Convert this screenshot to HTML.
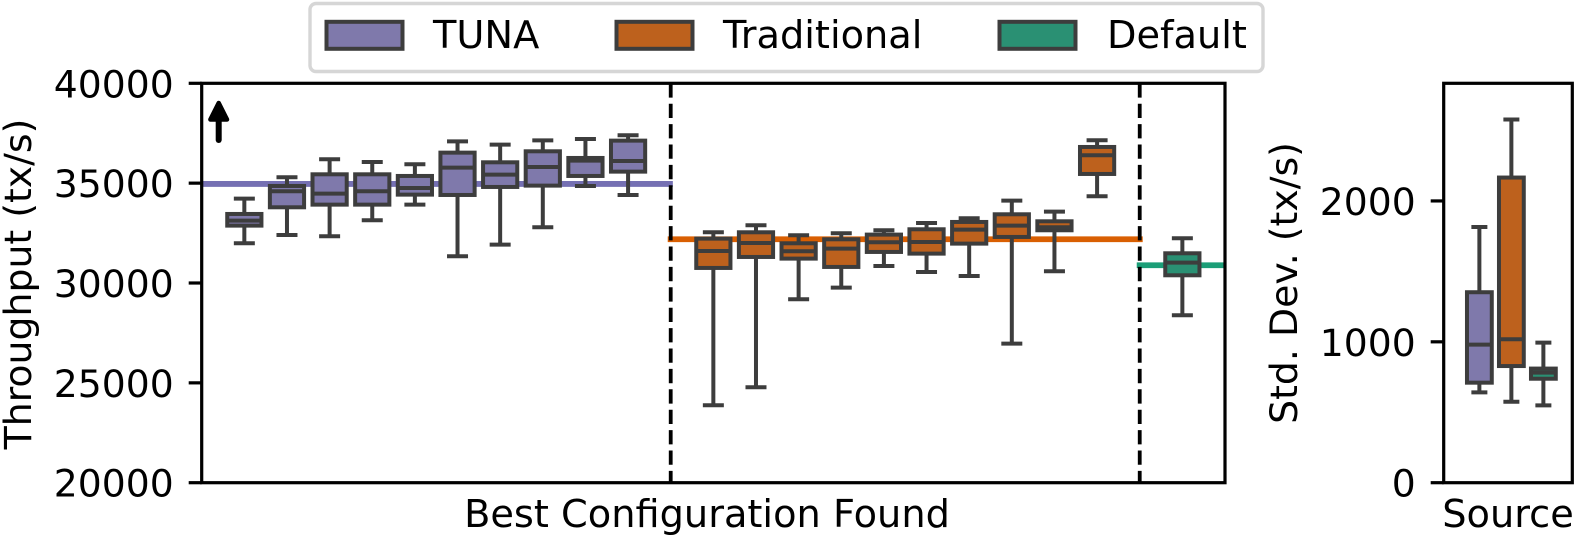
<!DOCTYPE html>
<html lang="en">
<head>
<meta charset="utf-8">
<title>Throughput and standard deviation by configuration source</title>
<style>
html,body{margin:0;padding:0;background:#fff;}
svg{display:block;}
text{font-family:"DejaVu Sans","Liberation Sans",sans-serif;fill:#000;}
</style>
</head>
<body>
<svg id="chart" width="1578" height="536" viewBox="0 0 1578 536" xmlns="http://www.w3.org/2000/svg">
  <g id="main-plot"></g>
  <g id="side-plot"></g>
  <text transform="translate(31 284) rotate(-90)" text-anchor="middle" font-size="37.8">Throughput (tx/s)</text>
  <text x="707" y="527" text-anchor="middle" font-size="38.3">Best Configuration Found</text>
  <text transform="translate(1297 283) rotate(-90)" text-anchor="middle" font-size="37.8">Std. Dev. (tx/s)</text>
  <text x="1508" y="527" text-anchor="middle" font-size="38.3">Source</text>
  <g>
    <line x1="218.7" y1="140" x2="218.7" y2="118" stroke="#000" stroke-width="6" stroke-linecap="round"/>
    <path d="M218.7 103 L227 119.5 L210.4 119.5 Z" fill="#000" stroke="#000" stroke-width="4.5" stroke-linejoin="round"/>
  </g>
  <g>
    <rect x="310" y="3.5" width="953" height="68" rx="6" fill="#fff" stroke="#d6d6d6" stroke-width="3.4"/>
    <g>
      <rect x="326.5" y="21.8" width="76" height="27" fill="#7f79ab" stroke="#3d3d3d" stroke-width="4"/>
      <text x="433" y="48" font-size="38.3">TUNA</text>
    </g>
    <g>
      <rect x="616.5" y="21.8" width="76" height="27" fill="#bd611d" stroke="#3d3d3d" stroke-width="4"/>
      <text x="723" y="48" font-size="38.3">Traditional</text>
    </g>
    <g>
      <rect x="999.5" y="21.8" width="76" height="27" fill="#2a9073" stroke="#3d3d3d" stroke-width="4"/>
      <text x="1107" y="48" font-size="38.3">Default</text>
    </g>
  </g>
</svg>
<script>
// Main panel: [upper whisker, Q3, median, Q1, lower whisker] for each configuration
const tunaHigh   = [34225, 35293, 36194, 36061, 35944, 37095, 36928, 37145, 37212, 37396];
const tunaQ3     = [33457, 34859, 35443, 35443, 35360, 36528, 36044, 36595, 36261, 37129];
const tunaMedian = [33123, 34592, 34475, 34592, 34759, 35777, 35426, 35810, 36127, 36111];
const tunaQ1     = [32873, 33791, 33924, 33924, 34425, 34408, 34809, 34876, 35360, 35577];
const tunaLow    = [31988, 32405, 32339, 33140, 33924, 31337, 31921, 32789, 34859, 34408];

const tradHigh   = [32540, 32890, 32389, 32489, 32640, 33007, 33240, 34125, 33574, 37146];
const tradQ3     = [32222, 32540, 31989, 32189, 32423, 32690, 33057, 33441, 33090, 36812];
const tradMedian = [31605, 32005, 31588, 31722, 32039, 32056, 32673, 32873, 32790, 36395];
const tradQ1     = [30754, 31304, 31221, 30804, 31555, 31471, 31972, 32306, 32640, 35460];
const tradLow    = [23876, 24777, 29185, 29769, 30854, 30553, 30353, 26965, 30587, 34342];

const defaultHigh   = [32239];
const defaultQ3     = [31488];
const defaultMedian = [31021];
const defaultQ1     = [30386];
const defaultLow    = [28384];

// Reference levels drawn as horizontal lines
const tunaBest = 34960;
const tradBest = 32189;
const defaultBest = 30887;

// Side panel: one box per source (TUNA, Traditional, Default)
const sideHigh   = [1815, 2578, 994];
const sideQ3     = [1352, 2166, 810];
const sideMedian = [980, 1018, 781];
const sideQ1     = [710, 828, 738];
const sideLow    = [641, 575, 549];

const mainTicks = [20000, 25000, 30000, 35000, 40000];
const sideTicks = [0, 1000, 2000];

const NS = 'http://www.w3.org/2000/svg';
const FILLS = {tuna: '#7f79ab', trad: '#bd611d', def: '#2a9073'};
const EDGE = '#3d3d3d';
const LW = 4;

const mainX = v => 201.7 + (v + 1) * (1225 - 201.7) / 24;
const mainY = v => 482.7 - (v - 20000) * (482.7 - 83.3) / 20000;
const sideX = v => 1443.7 + (v + 1.115) * 32;
const sideY = v => 482.7 - v * (482.7 - 83.3) / 2835;

function mk(parent, tag, attrs) {
  const el = document.createElementNS(NS, tag);
  for (const k in attrs) el.setAttribute(k, attrs[k]);
  parent.appendChild(el);
  return el;
}
function strokeLine(parent, x1, y1, x2, y2, color, width) {
  return mk(parent, 'line', {x1, y1, x2, y2, stroke: color, 'stroke-width': width});
}

function drawBox(parent, cx, halfW, capW, y, high, q3, med, q1, low, fill) {
  const g = mk(parent, 'g', {});
  
  

  const upper = strokeLine(g, cx, y(high), cx, y(q3), EDGE, LW);
  
  

  const lower = strokeLine(g, cx, y(q1), cx, y(low), EDGE, LW);
  
  

  const capHigh = strokeLine(g, cx - capW / 2, y(high), cx + capW / 2, y(high), EDGE, LW);
  
  

  const capLow = strokeLine(g, cx - capW / 2, y(low), cx + capW / 2, y(low), EDGE, LW);
  
  

  const box = mk(g, 'rect', {x: cx - halfW, y: y(q3), width: halfW * 2, height: y(q1) - y(q3), fill, stroke: EDGE, 'stroke-width': LW});
  
  

  const median = strokeLine(g, cx - halfW, y(med), cx + halfW, y(med), EDGE, LW);
  
  
}

function drawFrame(parent, x0, x1, ticks, y, prefix) {
  const frame = mk(parent, 'rect', {x: x0, y: 83.3, width: x1 - x0, height: 399.4, fill: 'none', stroke: '#000', 'stroke-width': 3.2});
  
  
  ticks.forEach(t => {
    const mark = strokeLine(parent, x0 - 13, y(t), x0, y(t), '#000', 3.2);
    
    

    const label = mk(parent, 'text', {x: x0 - 28, y: y(t) + 14, 'text-anchor': 'end', 'font-size': 37.7});
    label.textContent = String(t);
    
    
  });
}

const main = document.getElementById('main-plot');
const side = document.getElementById('side-plot');

const tunaLine = strokeLine(main, mainX(-1), mainY(tunaBest), mainX(10.05), mainY(tunaBest), '#7570b3', 5.8);



const tradLine = strokeLine(main, mainX(9.93), mainY(tradBest), mainX(21.07), mainY(tradBest), '#d95f02', 5.8);



const defaultLine = strokeLine(main, mainX(20.93), mainY(defaultBest), mainX(23), mainY(defaultBest), '#1b9e77', 5.8);



[10, 21].forEach(pos => {
  const sep = strokeLine(main, mainX(pos), 83.3, mainX(pos), 482.7, '#000', 3.8);
  sep.setAttribute('stroke-dasharray', '14.3 6.1');
  
  
});

tunaHigh.forEach((_, i) => drawBox(main, mainX(i), 17.1, 21, mainY, tunaHigh[i], tunaQ3[i], tunaMedian[i], tunaQ1[i], tunaLow[i], FILLS.tuna));
tradHigh.forEach((_, i) => drawBox(main, mainX(i + 11), 17.1, 21, mainY, tradHigh[i], tradQ3[i], tradMedian[i], tradQ1[i], tradLow[i], FILLS.trad));
defaultHigh.forEach((_, i) => drawBox(main, mainX(i + 22), 17.1, 21, mainY, defaultHigh[i], defaultQ3[i], defaultMedian[i], defaultQ1[i], defaultLow[i], FILLS.def));

drawFrame(main, 201.7, 1225, mainTicks, mainY, 'main');

const sideFills = [FILLS.tuna, FILLS.trad, FILLS.def];
sideHigh.forEach((_, i) => drawBox(side, sideX(i), 12.4, 16, sideY, sideHigh[i], sideQ3[i], sideMedian[i], sideQ1[i], sideLow[i], sideFills[i]));

drawFrame(side, 1443.7, 1572.3, sideTicks, sideY, 'side');
</script>
</body>
</html>
